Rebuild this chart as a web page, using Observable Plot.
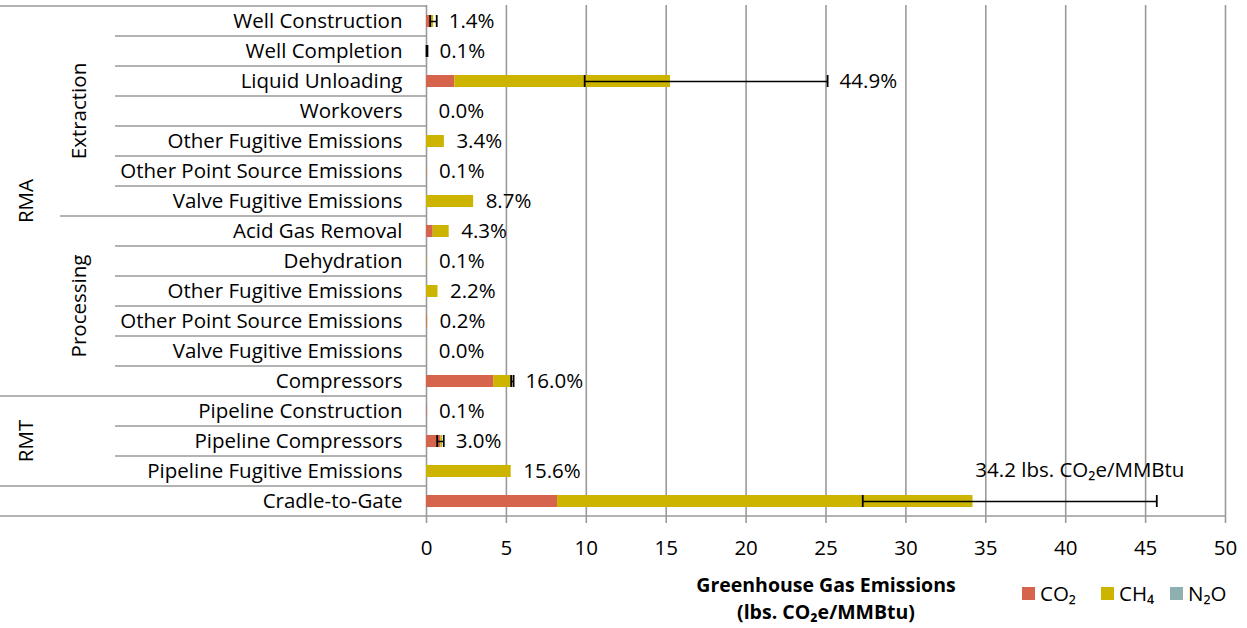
<!DOCTYPE html>
<html><head><meta charset="utf-8">
<script src="https://cdn.jsdelivr.net/npm/d3@7"></script>
<script src="https://cdn.jsdelivr.net/npm/@observablehq/plot@0.6"></script>
<style>
body{margin:0;background:#fff;font-family:"Open Sans",Lato,sans-serif;color:#000;}
#wrap{position:relative;width:1247px;}
#below{position:relative;width:1247px;height:63px;}
#xtitle{position:absolute;left:826px;top:6px;transform:translateX(-50%);text-align:center;font-weight:bold;font-size:19.5px;line-height:27px;white-space:nowrap;}
.lg{position:absolute;top:16px;display:flex;align-items:center;font-size:20.5px;line-height:24px;}
.lg span.sw{display:inline-block;width:13px;height:13px;margin-right:5px;}
</style></head><body>
<div id="wrap"></div>
<div id="below"><div id="xtitle">Greenhouse Gas Emissions<br>(lbs. CO₂e/MMBtu)</div></div>
<script>
// ---- data ----
const stages = ["RMA","RMA","RMA","RMA","RMA","RMA","RMA","RMA","RMA","RMA","RMA","RMA","RMA","RMT","RMT","RMT",""];
const groups = ["Extraction","Extraction","Extraction","Extraction","Extraction","Extraction","Extraction","Processing","Processing","Processing","Processing","Processing","Processing","","","",""];
const processes = ["Well Construction","Well Completion","Liquid Unloading","Workovers","Other Fugitive Emissions","Other Point Source Emissions","Valve Fugitive Emissions","Acid Gas Removal","Dehydration","Other Fugitive Emissions","Other Point Source Emissions","Valve Fugitive Emissions","Compressors","Pipeline Construction","Pipeline Compressors","Pipeline Fugitive Emissions","Cradle-to-Gate"];
const co2 = [0.30,0.03,1.77,0.00,0.00,0.02,0.00,0.42,0.01,0.00,0.05,0.00,4.20,0.03,0.90,0.00,8.20];
const ch4 = [0.15,0.00,13.50,0.00,1.12,0.01,2.95,1.00,0.02,0.72,0.02,0.01,1.20,0.00,0.10,5.30,26.00];
const n2o = [0,0,0,0,0,0,0,0,0,0,0,0,0,0,0,0,0];
const errLow  = [0.23,0.00,9.9,null,null,null,null,null,null,null,null,null,5.30,null,0.67,null,27.3];
const errHigh = [0.64,0.06,25.1,null,null,null,null,null,null,null,null,null,5.45,null,1.08,null,45.7];
const shares = ["1.4%","0.1%","44.9%","0.0%","3.4%","0.1%","8.7%","4.3%","0.1%","2.2%","0.2%","0.0%","16.0%","0.1%","3.0%","15.6%",""];
const totalLabel = "34.2 lbs. CO₂e/MMBtu";
const gases = ["CO₂","CH₄","N₂O"];
const gasColors = ["#D6644C","#CCB400","#8FB0B0"];
const xTicks = [0,5,10,15,20,25,30,35,40,45,50];

(function () {
// ---- derived tables ----
const keys = processes.map((_, i) => "r" + i);
const series = [co2, ch4, n2o];
const long = [];
keys.forEach((k, i) => gases.forEach((g, j) => long.push({key: k, gas: g, value: series[j][i]})));
const rows = keys.map((k, i) => ({key: k, total: co2[i] + ch4[i] + n2o[i], lo: errLow[i], hi: errHigh[i], share: shares[i]}));
const errRows = rows.filter(d => d.lo != null);
const lastRow = rows[rows.length - 1];

const FONT = 20.5;
const grid = "#9a9a9a";

const plot = Plot.plot({
  width: 1247, height: 565,
  marginLeft: 426, marginRight: 22, marginTop: 5, marginBottom: 49,
  style: {fontFamily: "'Open Sans', Lato, sans-serif", fontSize: FONT + "px", background: "#fff", color: "#000"},
  x: {domain: [0, 50], ticks: xTicks},
  y: {domain: keys, paddingInner: 0.6, paddingOuter: 0.3},
  color: {domain: gases, range: gasColors},
  marks: [
    Plot.gridX(xTicks, {stroke: grid, strokeOpacity: 1, strokeWidth: 1.6}),
    Plot.barX(long, {x: "value", y: "key", fill: "gas", order: gases}),
    Plot.ruleY(errRows, {y: "key", x1: "lo", x2: "hi", stroke: "#000", strokeWidth: 1.5}),
    Plot.tickX(errRows, {x: "lo", y: "key", stroke: "#000", strokeWidth: 1.8}),
    Plot.tickX(errRows, {x: "hi", y: "key", stroke: "#000", strokeWidth: 1.8}),
    Plot.text(rows.filter(d => d.share), {x: d => Math.max(d.total, d.hi ?? 0), y: "key", text: "share", textAnchor: "start", dx: 12, fontSize: FONT, fill: "#000"}),
    Plot.text([lastRow], {x: d => (d.total + d.hi) / 2, y: "key", text: () => totalLabel, dx: 15, dy: -31, fontSize: FONT, fill: "#000"}),
    Plot.axisX({ticks: xTicks, tickSize: 7, tickPadding: 17, stroke: grid, strokeWidth: 1.6, label: null, fontSize: FONT}),
    Plot.axisY({tickSize: 0, tickPadding: 24, label: null, fontSize: FONT, tickFormat: k => processes[+k.slice(1)]})
  ]
});
document.getElementById("wrap").appendChild(plot);

// ---- multi-level category structure on the left ----
const ys = plot.scale("y"), xs = plot.scale("x");
const step = ys.step, bw = ys.bandwidth;
const yTop = ys.apply(keys[0]) - (step - bw) / 2;
const yBottom = ys.apply(keys[keys.length - 1]) + bw + (step - bw) / 2;
const axisX0 = xs.apply(0), axisX1 = xs.apply(50);
const g = d3.select(plot).append("g").attr("stroke", grid).attr("stroke-width", 1.6);
g.append("line").attr("x1", 0).attr("x2", axisX0).attr("y1", yTop).attr("y2", yTop);
g.append("line").attr("x1", 0).attr("x2", axisX1).attr("y1", yBottom).attr("y2", yBottom);
for (let i = 1; i < keys.length; i++) {
  const yb = ys.apply(keys[i]) - (step - bw) / 2;
  let x0 = 115;
  if (stages[i] !== stages[i - 1]) x0 = 0;
  else if (groups[i] !== groups[i - 1]) x0 = 60;
  g.append("line").attr("x1", x0).attr("x2", axisX0).attr("y1", yb).attr("y2", yb);
}
function spanLabels(arr, xBase) {
  let s = 0;
  for (let i = 1; i <= arr.length; i++) {
    if (i === arr.length || arr[i] !== arr[s]) {
      if (arr[s]) {
        const y0 = ys.apply(keys[s]) - (step - bw) / 2;
        const y1 = ys.apply(keys[i - 1]) + bw + (step - bw) / 2;
        const cy = (y0 + y1) / 2;
        d3.select(plot).append("text")
          .attr("transform", `translate(${xBase},${cy}) rotate(-90)`)
          .attr("text-anchor", "middle")
          .attr("font-size", FONT)
          .attr("fill", "#000")
          .text(arr[s]);
      }
      s = i;
    }
  }
}
spanLabels(stages, 33);
spanLabels(groups, 86);

// ---- legend ----
const below = document.getElementById("below");
const legX = [1022, 1101, 1170];
gases.forEach((gname, i) => {
  const d = document.createElement("div");
  d.className = "lg";
  d.style.left = legX[i] + "px";
  d.innerHTML = `<span class="sw" style="background:${gasColors[i]}"></span>${gname}`;
  below.appendChild(d);
});
})();
</script>
</body></html>
